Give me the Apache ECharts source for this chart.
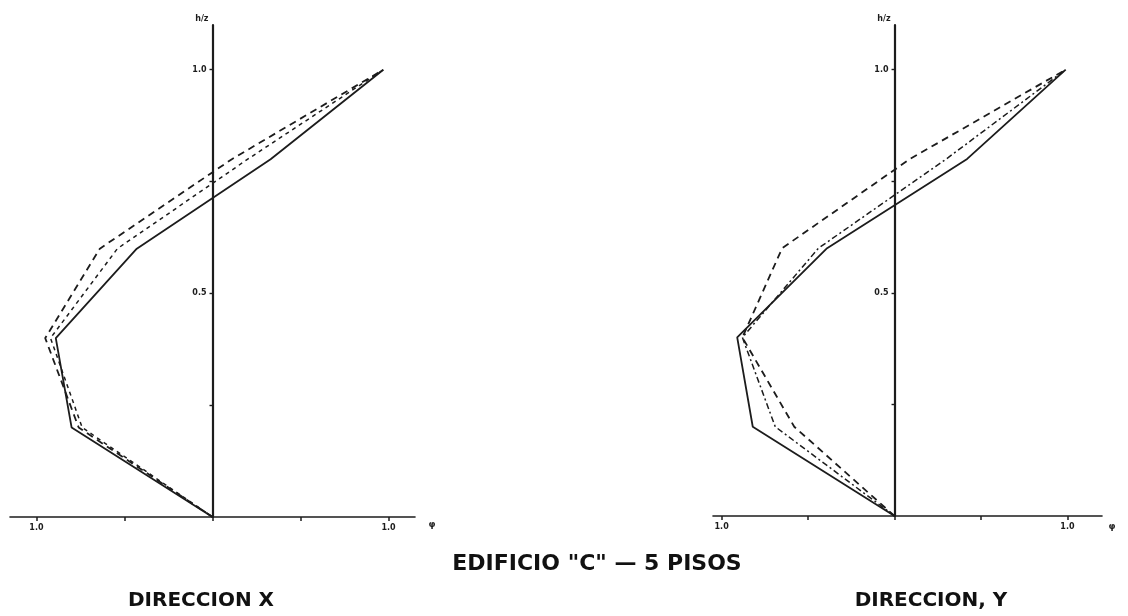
<!DOCTYPE html>
<html>
<head>
<meta charset="utf-8">
<title>Edificio C - 5 pisos</title>
<script src="https://cdn.jsdelivr.net/npm/echarts@6/dist/echarts.min.js"></script>
<style>
  html, body { margin: 0; padding: 0; background: #fff; }
  #chart { width: 1128px; height: 616px; }
</style>
</head>
<body>
<div id="chart"></div>
<script>
// Relative floor heights h/z (5 storeys)
const heights = [0, 0.2, 0.4, 0.6, 0.8, 1.0];

// Mode shape ordinates, direction X
const xSolid     = [0, -0.80, -0.89, -0.43, 0.33, 0.97];
const xLongDash  = [0, -0.76, -0.95, -0.64, 0.11, 0.97];
const xShortDash = [0, -0.74, -0.92, -0.54, 0.20, 0.97];

// Mode shape ordinates, direction Y
const ySolid     = [0, -0.82, -0.91, -0.39, 0.42, 0.99];
const yDashDot   = [0, -0.69, -0.88, -0.44, 0.30, 0.99];
const yLongDash  = [0, -0.58, -0.88, -0.65, 0.09, 0.99];

// Axis ticks and labels
const xTicks = [-1, -0.5, 0, 0.5, 1];
const xLabels = [-1, 1];
const hTicks = [0.25, 0.5, 0.75, 1.0];
const hLabels = [0.5, 1.0];

// Horizontal ranges of the two panels
const xRangeX = [-1.15, 1.15];
const xRangeY = [-1.05, 1.2];
const gridX = { left: 10, width: 405, top: 25, height: 492, outerBoundsMode: 'none' };
const gridY = { left: 713, width: 389, top: 25, height: 491, outerBoundsMode: 'none' };

const ink = '#1c1c1c';
const labelFont = { color: ink, fontSize: 8, fontWeight: 'bold', fontFamily: 'DejaVu Sans' };

function pairs(xs) { return xs.map((v, i) => [v, heights[i]]); }

function xAxisFor(gridIndex, range) {
  return {
    type: 'value', gridIndex, min: range[0], max: range[1],
    splitLine: { show: false },
    axisLine: { onZero: false, lineStyle: { color: ink, width: 1.6 } },
    axisTick: { show: true, customValues: xTicks, length: 4, inside: false, lineStyle: { color: ink, width: 1.5 } },
    axisLabel: Object.assign({ customValues: xLabels, margin: 7,
      formatter: v => Math.abs(v).toFixed(1) }, labelFont)
  };
}

// The vertical axis stands at x = 0, so it is shifted into the grid by the
// pixel distance from the grid's left edge to zero.
function yAxisFor(gridIndex, grid, range) {
  const zeroOffset = grid.width * (0 - range[0]) / (range[1] - range[0]);
  return {
    type: 'value', gridIndex, min: 0, max: 1.1,
    position: 'left', offset: -zeroOffset,
    name: 'h/z', nameLocation: 'end', nameGap: 2,
    nameTextStyle: { color: ink, fontSize: 8, fontWeight: 'bold', fontFamily: 'DejaVu Sans', align: 'right', padding: [0, 4, 0, 0] },
    splitLine: { show: false },
    axisLine: { onZero: false, lineStyle: { color: ink, width: 2.2 } },
    axisTick: { show: true, customValues: hTicks, length: 3, lineStyle: { color: ink, width: 1.4 } },
    axisLabel: Object.assign({ customValues: hLabels, margin: 6,
      formatter: v => v.toFixed(1) }, labelFont)
  };
}

function line(name, data, axisIdx, type, width) {
  return {
    name, type: 'line', xAxisIndex: axisIdx, yAxisIndex: axisIdx,
    data: pairs(data), symbol: 'none', silent: true, animation: false,
    lineStyle: { color: ink, width: width || 1.6, type }
  };
}

const chart = echarts.init(document.getElementById('chart'), null, { renderer: 'canvas' });
chart.setOption({
  backgroundColor: '#fff',
  animation: false,
  grid: [gridX, gridY],
  xAxis: [xAxisFor(0, xRangeX), xAxisFor(1, xRangeY)],
  yAxis: [yAxisFor(0, gridX, xRangeX), yAxisFor(1, gridY, xRangeY)],
  series: [
    line('X solido', xSolid, 0, 'solid', 1.8),
    line('X trazos', xLongDash, 0, [7, 5], 1.8),
    line('X trazos cortos', xShortDash, 0, [4, 4], 1.5),
    line('Y solido', ySolid, 1, 'solid', 1.8),
    line('Y trazo-punto', yDashDot, 1, [6, 3, 2, 3], 1.5),
    line('Y trazos', yLongDash, 1, [7, 5], 1.8)
  ],
  graphic: [
    { type: 'text', x: 432, y: 525, style: { text: 'φ', align: 'center', verticalAlign: 'middle', fill: ink, font: 'bold 9px "DejaVu Sans"' } },
    { type: 'text', x: 1112, y: 527, style: { text: 'φ', align: 'center', verticalAlign: 'middle', fill: ink, font: 'bold 9px "DejaVu Sans"' } },
    { type: 'text', x: 597, y: 564, style: { text: 'EDIFICIO "C" — 5 PISOS', align: 'center', verticalAlign: 'middle', fill: '#111', font: 'bold 22px "DejaVu Sans"' } },
    { type: 'text', x: 201, y: 601, style: { text: 'DIRECCION X', align: 'center', verticalAlign: 'middle', fill: '#111', font: 'bold 20px "DejaVu Sans"' } },
    { type: 'text', x: 931, y: 601, style: { text: 'DIRECCION, Y', align: 'center', verticalAlign: 'middle', fill: '#111', font: 'bold 20px "DejaVu Sans"' } }
  ]
});
</script>
</body>
</html>
